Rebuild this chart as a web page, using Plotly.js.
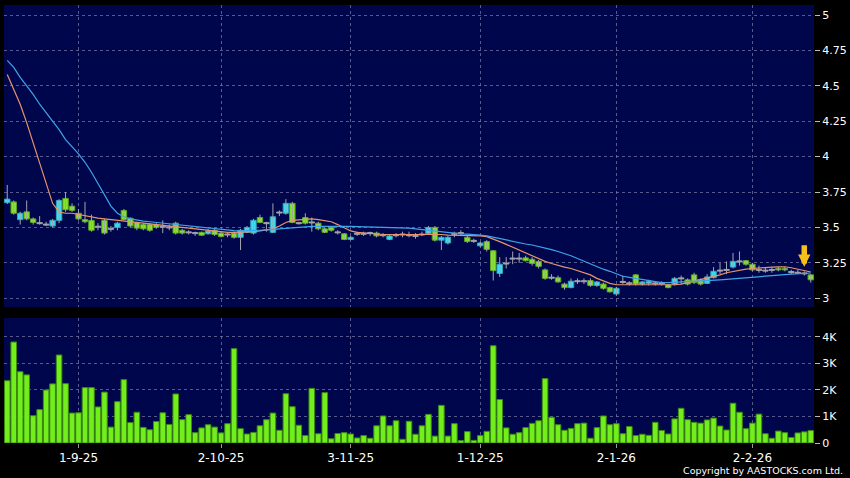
<!DOCTYPE html>
<html>
<head>
<meta charset="utf-8">
<script src="https://cdn.plot.ly/plotly-3.0.1.min.js"></script>
<style>html,body{margin:0;padding:0;background:#000;}#chart{width:850px;height:478px;}</style>
</head>
<body>
<div id="chart"></div>
<script>
// Trading dates (categories)
const dates = [
 '2025-08-15','2025-08-18','2025-08-19','2025-08-20','2025-08-21','2025-08-22','2025-08-25','2025-08-26','2025-08-27','2025-08-28','2025-08-29',
 '2025-09-01','2025-09-02','2025-09-03','2025-09-04','2025-09-05','2025-09-08','2025-09-09','2025-09-10','2025-09-11','2025-09-12','2025-09-15','2025-09-16','2025-09-17','2025-09-18','2025-09-19','2025-09-22','2025-09-23','2025-09-24','2025-09-25','2025-09-26','2025-09-29','2025-09-30',
 '2025-10-02','2025-10-03','2025-10-06','2025-10-08','2025-10-09','2025-10-10','2025-10-13','2025-10-14','2025-10-15','2025-10-16','2025-10-17','2025-10-20','2025-10-21','2025-10-22','2025-10-23','2025-10-24','2025-10-27','2025-10-28','2025-10-30','2025-10-31',
 '2025-11-03','2025-11-04','2025-11-05','2025-11-06','2025-11-07','2025-11-10','2025-11-11','2025-11-12','2025-11-13','2025-11-14','2025-11-17','2025-11-18','2025-11-19','2025-11-20','2025-11-21','2025-11-24','2025-11-25','2025-11-26','2025-11-27','2025-11-28',
 '2025-12-01','2025-12-02','2025-12-03','2025-12-04','2025-12-05','2025-12-08','2025-12-09','2025-12-10','2025-12-11','2025-12-12','2025-12-15','2025-12-16','2025-12-17','2025-12-18','2025-12-19','2025-12-22','2025-12-23','2025-12-24','2025-12-29','2025-12-30','2025-12-31',
 '2026-01-02','2026-01-05','2026-01-06','2026-01-07','2026-01-08','2026-01-09','2026-01-12','2026-01-13','2026-01-14','2026-01-15','2026-01-16','2026-01-19','2026-01-20','2026-01-21','2026-01-22','2026-01-23','2026-01-26','2026-01-27','2026-01-28','2026-01-29','2026-01-30',
 '2026-02-02','2026-02-03','2026-02-04','2026-02-05','2026-02-06','2026-02-09','2026-02-10','2026-02-11','2026-02-12','2026-02-13'
];

const openP = [3.675,3.68,3.555,3.61,3.56,3.53,3.52,3.51,3.55,3.705,3.65,3.60,3.555,3.55,3.505,3.55,3.49,3.50,3.62,3.565,3.535,3.52,3.52,3.52,3.505,3.50,3.53,3.48,3.465,3.46,
 3.465,3.455,3.48,3.46,3.45,3.46,3.43,3.465,3.46,3.57,3.53,3.465,3.605,3.60,3.67,3.53,3.57,3.535,3.53,3.49,
 3.50,3.465,3.455,3.415,3.455,3.455,3.46,3.46,3.445,3.415,3.445,3.45,3.445,3.44,3.45,3.455,3.50,3.41,3.39,3.455,
 3.46,3.43,3.405,3.37,3.40,3.335,3.175,3.245,3.28,3.28,3.285,3.275,3.26,3.20,3.145,3.145,3.10,3.075,3.12,3.12,
 3.125,3.09,3.10,3.075,3.03,3.115,3.105,3.165,3.10,3.105,3.105,3.105,3.095,3.10,3.14,3.13,3.165,3.13,3.105,3.145,
 3.195,3.20,3.22,3.26,3.265,3.24,3.20,3.195,3.20,3.21,3.21,3.185,3.18,3.175,3.165];
const highP = [3.80,3.69,3.61,3.69,3.57,3.58,3.54,3.56,3.70,3.75,3.67,3.63,3.68,3.59,3.53,3.56,3.51,3.54,3.63,3.57,3.54,3.53,3.53,3.53,3.55,3.52,3.54,3.49,3.48,3.47,
 3.47,3.49,3.49,3.47,3.46,3.47,3.49,3.51,3.56,3.59,3.54,3.67,3.62,3.70,3.68,3.54,3.60,3.57,3.54,3.50,
 3.51,3.48,3.46,3.44,3.47,3.47,3.47,3.47,3.46,3.45,3.46,3.47,3.47,3.46,3.47,3.51,3.51,3.44,3.44,3.47,
 3.48,3.44,3.42,3.40,3.41,3.34,3.29,3.29,3.33,3.32,3.30,3.29,3.27,3.21,3.17,3.16,3.11,3.14,3.14,3.14,
 3.14,3.12,3.11,3.08,3.08,3.16,3.12,3.17,3.12,3.13,3.12,3.12,3.10,3.15,3.16,3.14,3.18,3.14,3.17,3.22,
 3.25,3.26,3.32,3.33,3.27,3.25,3.23,3.22,3.22,3.22,3.22,3.20,3.20,3.19,3.17];
const lowP = [3.665,3.59,3.52,3.55,3.52,3.52,3.51,3.50,3.53,3.61,3.61,3.55,3.53,3.47,3.48,3.45,3.47,3.48,3.55,3.50,3.48,3.48,3.47,3.49,3.46,3.48,3.45,3.45,3.45,3.44,
 3.44,3.45,3.44,3.43,3.43,3.42,3.34,3.46,3.45,3.53,3.47,3.46,3.58,3.59,3.53,3.52,3.52,3.47,3.48,3.46,
 3.47,3.45,3.41,3.41,3.44,3.44,3.44,3.43,3.43,3.41,3.43,3.43,3.43,3.42,3.44,3.45,3.40,3.34,3.38,3.43,
 3.44,3.39,3.39,3.36,3.33,3.125,3.15,3.21,3.24,3.25,3.26,3.23,3.21,3.13,3.13,3.11,3.06,3.07,3.10,3.10,
 3.08,3.08,3.06,3.04,3.02,3.10,3.09,3.09,3.09,3.09,3.09,3.09,3.07,3.09,3.10,3.09,3.10,3.09,3.10,3.14,
 3.17,3.17,3.21,3.23,3.23,3.19,3.18,3.18,3.18,3.19,3.19,3.17,3.17,3.16,3.11];
const closeP = [3.70,3.60,3.60,3.56,3.535,3.53,3.52,3.55,3.69,3.625,3.62,3.56,3.54,3.48,3.505,3.46,3.49,3.53,3.555,3.51,3.495,3.49,3.48,3.50,3.505,3.50,3.46,3.46,3.465,3.46,
 3.445,3.475,3.45,3.435,3.45,3.43,3.48,3.50,3.55,3.535,3.53,3.575,3.605,3.67,3.535,3.53,3.53,3.535,3.49,3.465,
 3.48,3.465,3.415,3.43,3.455,3.455,3.46,3.44,3.445,3.44,3.445,3.45,3.445,3.44,3.45,3.50,3.41,3.43,3.43,3.455,
 3.46,3.40,3.405,3.39,3.345,3.195,3.24,3.245,3.28,3.28,3.265,3.245,3.225,3.14,3.145,3.115,3.075,3.12,3.12,3.12,
 3.09,3.115,3.07,3.045,3.07,3.115,3.105,3.10,3.115,3.12,3.105,3.105,3.075,3.14,3.14,3.10,3.11,3.10,3.15,3.19,
 3.195,3.20,3.26,3.26,3.24,3.20,3.20,3.195,3.20,3.20,3.20,3.185,3.18,3.175,3.13];

const maShort = [4.58,4.47,4.37,4.24,4.10,3.95,3.81,3.67,3.61,3.60,3.60,3.59,3.58,3.575,3.565,3.56,3.555,3.55,3.545,3.54,3.535,3.53,3.525,3.52,3.515,3.51,3.505,3.50,3.49,3.485,
 3.48,3.475,3.47,3.47,3.465,3.465,3.465,3.47,3.47,3.475,3.48,3.49,3.51,3.535,3.55,3.555,3.56,3.56,3.555,3.55,
 3.54,3.52,3.50,3.475,3.465,3.46,3.455,3.455,3.45,3.45,3.45,3.45,3.45,3.45,3.45,3.455,3.455,3.45,3.445,3.445,
 3.445,3.44,3.44,3.44,3.435,3.42,3.40,3.38,3.36,3.34,3.315,3.295,3.28,3.26,3.245,3.23,3.22,3.21,3.195,3.185,
 3.165,3.14,3.12,3.105,3.095,3.095,3.095,3.095,3.093,3.093,3.093,3.093,3.093,3.095,3.10,3.11,3.12,3.13,3.14,3.15,
 3.165,3.18,3.19,3.20,3.205,3.21,3.215,3.218,3.22,3.222,3.222,3.215,3.205,3.19,3.185];
const maLong = [4.68,4.63,4.56,4.50,4.44,4.37,4.31,4.25,4.19,4.12,4.07,4.02,3.96,3.89,3.81,3.73,3.65,3.60,3.575,3.56,3.55,3.545,3.54,3.535,3.53,3.525,3.52,3.515,3.51,3.505,
 3.50,3.495,3.49,3.485,3.48,3.478,3.476,3.476,3.478,3.48,3.483,3.487,3.49,3.495,3.50,3.503,3.505,3.507,3.508,3.509,
 3.51,3.51,3.51,3.508,3.506,3.505,3.504,3.503,3.502,3.50,3.50,3.498,3.495,3.49,3.485,3.475,3.47,3.465,3.46,3.457,
 3.455,3.452,3.45,3.446,3.44,3.43,3.42,3.41,3.40,3.39,3.383,3.376,3.366,3.355,3.343,3.33,3.317,3.30,3.28,3.26,
 3.24,3.223,3.205,3.19,3.17,3.155,3.147,3.14,3.133,3.125,3.118,3.11,3.11,3.112,3.113,3.115,3.117,3.12,3.123,3.126,
 3.13,3.133,3.137,3.142,3.148,3.152,3.155,3.158,3.16,3.164,3.167,3.17,3.173,3.176,3.178];

const volume = [2350,3810,2690,2570,1030,1260,2000,2230,3320,2240,1130,1140,2090,2090,1360,1920,600,1560,2390,770,1160,590,500,810,1140,700,1850,880,1070,390,
 570,690,600,380,730,3560,540,340,400,650,880,1130,480,1860,1370,670,280,2060,350,1900,
 160,360,390,340,190,280,180,650,1020,650,840,140,820,330,650,1080,260,1420,260,730,
 90,430,100,280,440,3670,1640,570,330,390,580,740,840,2430,970,690,480,550,730,750,
 180,580,1020,690,730,350,620,280,330,290,780,470,340,910,1310,880,780,750,870,940,
 640,490,1500,1160,540,750,1090,350,180,450,390,210,380,420,470];

const tickDates = ['2025-09-01','2025-10-02','2025-11-03','2025-12-01','2026-01-02','2026-02-02'];
const tickLabels = ['1-9-25','2-10-25','3-11-25','1-12-25','2-1-26','2-2-26'];
const priceTicks = [3,3.25,3.5,3.75,4,4.25,4.5,4.75,5];
const priceTickText = ['3','3.25','3.5','3.75','4','4.25','4.5','4.75','5'];
const volTicks = [0,1000,2000,3000,4000];
const volTickText = ['0','1K','2K','3K','4K'];

// styling
const wickCol = '#a4a4ae';
const upFill = '#3ddcf2', upLine = '#2aa6bc';
const dnFill = '#86e62a', dnLine = '#58a41c';

// derived drawing arrays
const wx = [], wy = [];
const bBase = [], bLen = [], bFill = [], bLine = [];
for (let i = 0; i < dates.length; i++) {
  wx.push(dates[i], dates[i], null);
  wy.push(lowP[i], highP[i], null);
  const o = openP[i], c = closeP[i];
  if (o === c) {
    bBase.push(c - 0.0035); bLen.push(0.007); bFill.push(wickCol); bLine.push(wickCol);
  } else {
    bBase.push(Math.min(o, c)); bLen.push(Math.abs(c - o));
    bFill.push(c > o ? upFill : dnFill); bLine.push(c > o ? upLine : dnLine);
  }
}

const traces = [
  {type:'scatter', mode:'lines', x:wx, y:wy, xaxis:'x', yaxis:'y', connectgaps:false,
   line:{color:wickCol, width:1}, showlegend:false, hoverinfo:'skip'},
  {type:'bar', x:dates, y:bLen, base:bBase, width:0.84, xaxis:'x', yaxis:'y',
   marker:{color:bFill, line:{color:bLine, width:1}}, showlegend:false, hoverinfo:'skip'},
  {type:'scatter', mode:'lines', x:dates, y:maShort, xaxis:'x', yaxis:'y',
   line:{color:'#e8946a', width:1.2}, showlegend:false, hoverinfo:'skip'},
  {type:'scatter', mode:'lines', x:dates, y:maLong, xaxis:'x', yaxis:'y',
   line:{color:'#3ea4ea', width:1.2}, showlegend:false, hoverinfo:'skip'},
  {type:'bar', x:dates, y:volume, xaxis:'x2', yaxis:'y2',
   marker:{color:'#72ee1c', line:{color:'#3c8a12', width:1}}, showlegend:false, hoverinfo:'skip'}
];

const gridCol = 'rgba(125,125,170,0.7)';
const layout = {
  width:850, height:478,
  paper_bgcolor:'#000000', plot_bgcolor:'#00064c',
  margin:{l:4, r:36, t:5, b:35},
  font:{family:'DejaVu Sans', color:'#ffffff', size:11},
  barmode:'overlay', bargap:0.14,
  showlegend:false,
  xaxis:{type:'category', domain:[0,1], anchor:'y', range:[-0.5, dates.length-0.5],
    tickvals:tickDates, showticklabels:false, ticks:'', showgrid:true, gridcolor:gridCol, griddash:'3px,3px', gridwidth:1,
    zeroline:false, showline:false, fixedrange:true},
  xaxis2:{type:'category', domain:[0,1], anchor:'y2', matches:'x', range:[-0.5, dates.length-0.5],
    tickvals:tickDates, ticktext:tickLabels, ticks:'outside', ticklen:4, tickcolor:'#9a9a9a',
    tickfont:{size:12, color:'#ffffff'}, showgrid:true, gridcolor:gridCol, griddash:'3px,3px', gridwidth:1,
    zeroline:false, showline:false},
  yaxis:{domain:[0.3105,1], anchor:'x', side:'right', range:[2.938, 5.0706],
    tickvals:priceTicks, ticktext:priceTickText, ticks:'outside', ticklen:5, tickcolor:'#bbbbbb',
    tickfont:{size:11, color:'#ffffff'}, showgrid:true, gridcolor:gridCol, griddash:'3px,3px', gridwidth:1,
    zeroline:false, showline:false},
  yaxis2:{domain:[0,0.2854], anchor:'x2', side:'right', range:[0, 4717],
    tickvals:volTicks, ticktext:volTickText, ticks:'outside', ticklen:5, tickcolor:'#bbbbbb',
    tickfont:{size:11, color:'#ffffff'}, showgrid:true, gridcolor:gridCol, griddash:'3px,3px', gridwidth:1,
    zeroline:false, showline:false},
  annotations:[
    {xref:'x', yref:'y', x:dates[123], y:3.222, ax:0, ay:-23, showarrow:true, arrowhead:2, arrowsize:0.45,
     arrowwidth:5.5, arrowcolor:'#f6c01a', text:'', standoff:0},
    {xref:'paper', yref:'paper', x:1.038, y:-0.062, xanchor:'right', yanchor:'middle', showarrow:false,
     text:'Copyright by AASTOCKS.com Ltd.', font:{size:9.5, color:'#ffffff', family:'DejaVu Sans'}}
  ]
};

Plotly.newPlot('chart', traces, layout, {displayModeBar:false, staticPlot:true});
</script>
</body>
</html>
